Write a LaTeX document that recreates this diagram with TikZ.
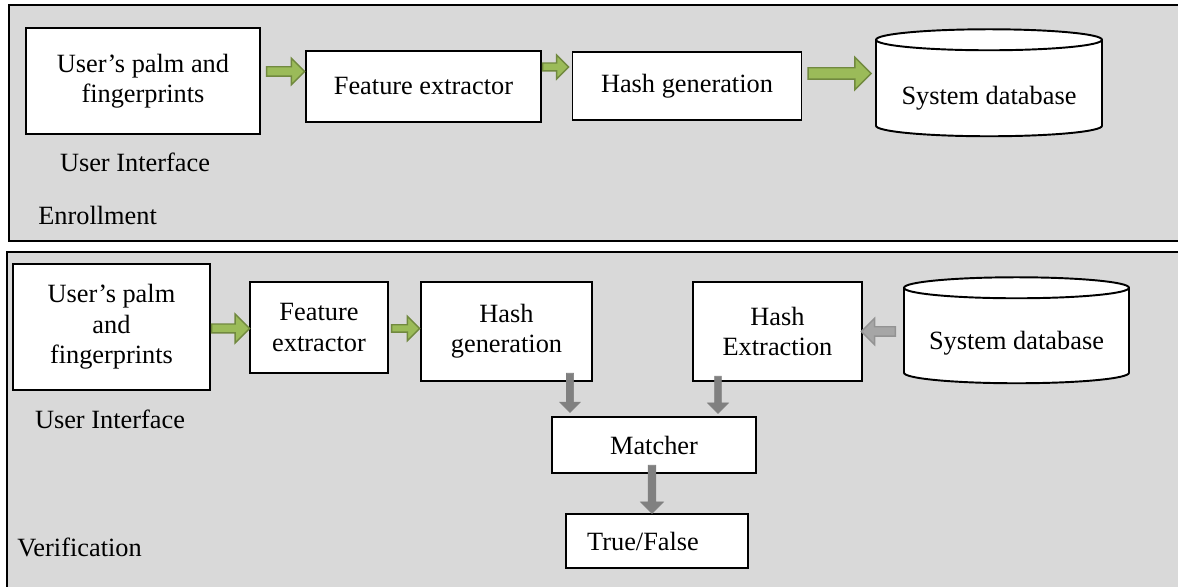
\documentclass[tikz,border=0pt]{standalone}
\usepackage{fontspec}
\setmainfont{Liberation Serif}
\usepackage{xcolor}
\definecolor{panelGray}{HTML}{D9D9D9}
\definecolor{arrowGreen}{HTML}{9BBB59}
\definecolor{arrowGreenDark}{HTML}{71893F}
\definecolor{arrowGray}{HTML}{808080}
\definecolor{arrowGrayLight}{HTML}{A6A6A6}
\usepackage{tikz}
\usetikzlibrary{shapes,shapes.arrows,positioning,calc}
\tikzset{
    panel/.style={
        draw=black,
        line width=1.1pt
    },
    box/.style={
        draw=black,
        fill=white,
        rectangle,
        align=center,
        line width=1.1pt,
        inner sep=2pt
    },
    database/.style={
        draw=black,
        fill=white,
        cylinder,
        shape border rotate=90,
        aspect=0.12,
        align=center,
        line width=1.1pt,
        inner sep=0pt
    },
    caption/.style={
        inner sep=0pt,
        align=center
    },
    greenarrow/.style={
        single arrow,
        draw=arrowGreenDark,
        fill=arrowGreen,
        line width=0.8pt,
        inner xsep=0pt,
        single arrow tip angle=90,
        anchor=tail
    },
    grayarrow/.style={
        single arrow,
        draw=arrowGray,
        fill=arrowGray,
        line width=0.4pt,
        inner ysep=0pt,
        single arrow tip angle=90,
        shape border rotate=270,
        anchor=tail
    }
}

\begin{document}
\begin{tikzpicture}[x=0.02cm, y=-0.02cm, font=\fontsize{15}{17.3}\selectfont]
    \useasboundingbox (0,0) rectangle (1178,587);

    % panels
    \fill[panelGray] (9,5) rectangle (1178,241);
    \fill[panelGray] (7,252) rectangle (1178,587);
    \draw[panel] (1178,5) -- (9,5) -- (9,241) -- (1178,241);
    \draw[panel] (1178,252) -- (7,252) -- (7,587);

    % enrollment
    \node[box, minimum width=4.68cm, minimum height=2.12cm] (eUser) at (143,81) {User’s palm and\\fingerprints};
    \node[caption] (eUI) at (135,162) {User Interface};
    \node[caption, anchor=west] (eEnroll) at (38,215) {Enrollment};
    \node[box, minimum width=4.70cm, minimum height=1.42cm] (eFeat) at (423.5,86.5) {Feature extractor};
    \node[box, minimum width=4.58cm, minimum height=1.36cm] (eHash) at (687,86) {Hash generation};
    \node[database, minimum width=4.52cm, minimum height=2.14cm] (eDb) at (989,88.5) {\raisebox{-9.1pt}[0pt][0pt]{System database}};

    \node[greenarrow, minimum height=0.76cm, inner ysep=0.08cm, single arrow head extend=0.17cm] (eArr1) at ([xshift=0.1cm]eUser.east |- 0,71.5) {};
    \node[greenarrow, minimum height=0.52cm, inner ysep=0.065cm, single arrow head extend=0.16cm] (eArr2) at (eFeat.east |- 0,67) {};
    \node[greenarrow, minimum height=1.26cm, inner ysep=0.10cm, single arrow head extend=0.21cm] (eArr3) at ([xshift=0.1cm]eHash.east |- 0,73.5) {};

    % verification
    \node[box, minimum width=3.94cm, minimum height=2.52cm] (vUser) at (111.5,327) {User’s palm\\and\\fingerprints};
    \node[caption] (vUI) at (110,419) {User Interface};
    \node[caption, anchor=west] (vVerif) at (17,547) {Verification};
    \node[box, minimum width=2.76cm, minimum height=1.82cm] (vFeat) at (319,327.5) {Feature\\extractor};
    \node[box, minimum width=3.42cm, minimum height=1.98cm] (vHash) at (506.5,331.5) {Hash\\generation};
    \node[box, minimum width=3.38cm, minimum height=1.98cm] (vHashEx) at (777.5,331.5) {Hash\\Extraction};
    \node[database, minimum width=4.50cm, minimum height=2.12cm] (vDb) at (1016.5,336) {\raisebox{-7.9pt}[0pt][0pt]{System database}};
    \node[box, minimum width=4.08cm, minimum height=1.12cm] (vMatch) at (654,445) {Matcher};
    \node[box, minimum width=3.64cm, minimum height=1.08cm] (vResult) at (657,541) {True/False\hspace*{0.56cm}};

    \node[greenarrow, minimum height=0.76cm, inner ysep=0.075cm, single arrow head extend=0.20cm] (vArr1) at (vUser.east |- 0,328.5) {};
    \node[greenarrow, minimum height=0.56cm, inner ysep=0.06cm, single arrow head extend=0.17cm] (vArr2) at ([xshift=0.04cm]vFeat.east |- 0,328.5) {};
    \node[grayarrow, draw=arrowGray!85, fill=arrowGrayLight, line width=0.8pt, shape border rotate=180, minimum height=0.68cm, inner xsep=0pt, inner ysep=0.08cm, single arrow head extend=0.17cm] (vArr3) at ([xshift=-0.14cm]vDb.west |- 0,331.5) {};
    \node[grayarrow, minimum height=0.78cm, inner xsep=0.065cm, single arrow head extend=0.13cm] (vArr4) at (570,373) {};
    \node[grayarrow, minimum height=0.74cm, inner xsep=0.06cm, single arrow head extend=0.14cm] (vArr5) at (718,376) {};
    \node[grayarrow, minimum height=0.96cm, inner xsep=0.07cm, single arrow head extend=0.15cm] (vArr6) at (652,465) {};
\end{tikzpicture}
\end{document}
